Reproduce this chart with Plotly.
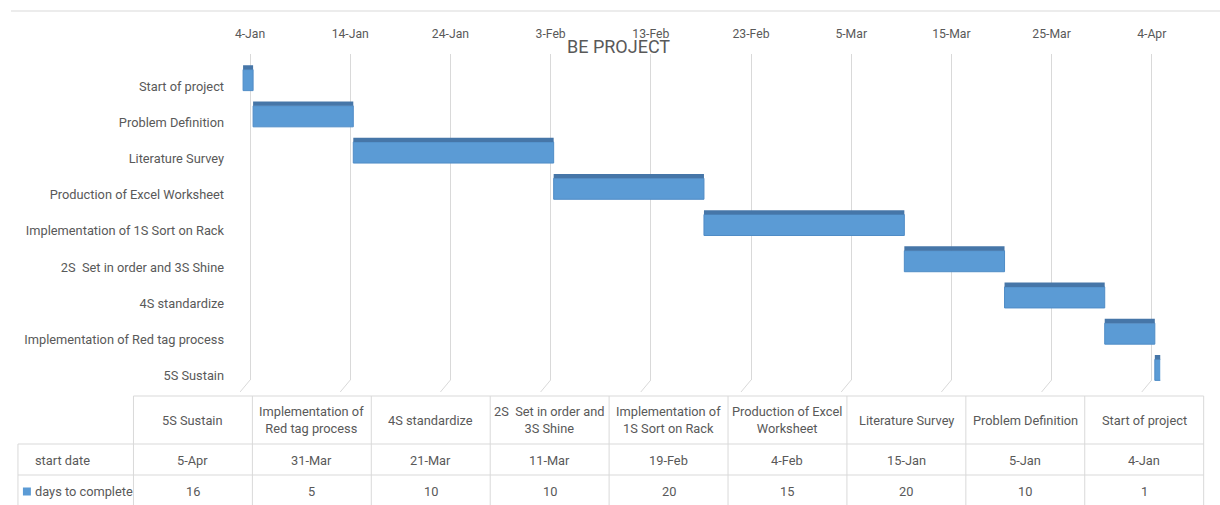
import plotly.graph_objects as go
import pandas as pd

# ---- data (table order, as in the Excel source) ----
tasks = ["5S Sustain", "Implementation of Red tag process", "4S standardize",
         "2S  Set in order and 3S Shine", "Implementation of 1S Sort on Rack",
         "Production of Excel Worksheet", "Literature Survey", "Problem Definition",
         "Start of project"]
header_labels = ["5S Sustain", "Implementation of<br>Red tag process", "4S standardize",
                 "2S  Set in order and<br>3S Shine", "Implementation of<br>1S Sort on Rack",
                 "Production of Excel<br>Worksheet", "Literature Survey", "Problem Definition",
                 "Start of project"]
start_dates = ["2019-04-05", "2019-03-31", "2019-03-21", "2019-03-11", "2019-02-19",
               "2019-02-04", "2019-01-15", "2019-01-05", "2019-01-04"]
days_to_complete = [16, 5, 10, 10, 20, 15, 20, 10, 1]
row_labels = ["start date", "days to complete"]
title_text = "BE PROJECT"

# ---- styling ----
W, H = 1220, 505
FONT = "Roboto, Liberation Sans, sans-serif"
TXT = "#595959"
GRID = "#d9d9d9"
BAR = "#5B9BD5"
BAR_TOP = "#4676a8"
FS = 12.8

def px(x):
    return x / W

def py(y):
    return 1 - y / H

DAY_MS = 86400000
dur_ms = [d * DAY_MS for d in days_to_complete]
start_fmt = [pd.Timestamp(s).strftime("%-d-%b") for s in start_dates]

X_RANGE = ["2019-01-03", "2019-04-05 13:00"]
# back wall (gridlines, ticks) and front face (bars) of the 3-D Excel chart
back_l, back_r, back_t, back_b = 236, 1167, 54, 380
DX, DY = -7, 8
front_l, front_r, front_t, front_b = back_l + DX, back_r + DX, back_t + DY, back_b + DY

fig = go.Figure()
fig.add_trace(go.Bar(y=tasks, x=dur_ms, base=start_dates, orientation="h",
                     width=0.58, offset=-0.29, xaxis="x2", yaxis="y2",
                     marker=dict(color=BAR, line=dict(color="#4f8cc6", width=1)),
                     hoverinfo="skip", showlegend=False))
fig.add_trace(go.Bar(y=tasks, x=dur_ms, base=start_dates, orientation="h",
                     width=0.12, offset=0.29, xaxis="x2", yaxis="y2",
                     marker=dict(color=BAR_TOP, line=dict(width=0)),
                     hoverinfo="skip", showlegend=False))

fig.update_layout(
    width=W, height=H, autosize=False,
    margin=dict(l=0, r=0, t=0, b=0),
    paper_bgcolor="white", plot_bgcolor="rgba(0,0,0,0)",
    barmode="overlay",
    font=dict(family=FONT, color=TXT, size=FS),
    xaxis=dict(type="date", side="top", domain=[px(back_l), px(back_r)], anchor="y",
               range=X_RANGE, tick0="2019-01-04", dtick=10 * DAY_MS, tickformat="%-d-%b",
               showgrid=True, gridcolor=GRID, gridwidth=1, showline=False, zeroline=False,
               ticks="", tickfont=dict(size=12.2, color=TXT), ticklabelstandoff=13),
    yaxis=dict(domain=[py(back_b), py(back_t)], anchor="x", range=[-0.5, len(tasks) - 0.5],
               visible=False),
    xaxis2=dict(type="date", domain=[px(front_l), px(front_r)], anchor="y2",
                range=X_RANGE, visible=False),
    yaxis2=dict(domain=[py(front_b), py(front_t)], anchor="x2", range=[-0.5, len(tasks) - 0.5],
                showgrid=False, showline=False, zeroline=False, ticks="",
                tickfont=dict(size=FS, color=TXT), ticklabelstandoff=8, ticklabelshift=6),
)

shapes = []
annotations = []
# chart border top line
shapes.append(dict(type="line", xref="paper", yref="paper", x0=px(6), x1=px(1220), y0=py(11), y1=py(11),
                   line=dict(color=GRID, width=1)))
# 3D floor slants under each gridline
tick_dates = pd.date_range("2019-01-04", "2019-04-04", freq="10D")
for t in tick_dates:
    shapes.append(dict(type="line", xref="x", yref="paper", x0=t, y0=py(back_b),
                       x1=t - pd.Timedelta(days=1), y1=py(392), line=dict(color=GRID, width=1)))

# data table
col_edges = [129 + i * 119.4 for i in range(len(tasks) + 1)]
t_top, t_hdr, t_r1, t_r2 = 396, 444, 475, 512
lc = dict(color=GRID, width=1)
shapes.append(dict(type="line", xref="paper", yref="paper", x0=px(col_edges[0]), x1=px(col_edges[-1]),
                   y0=py(t_top), y1=py(t_top), line=lc))
for yy in (t_hdr, t_r1):
    shapes.append(dict(type="line", xref="paper", yref="paper", x0=px(13), x1=px(col_edges[-1]),
                       y0=py(yy), y1=py(yy), line=lc))
shapes.append(dict(type="line", xref="paper", yref="paper", x0=px(13), x1=px(13),
                   y0=py(t_hdr), y1=py(t_r2), line=lc))
for xe in col_edges:
    shapes.append(dict(type="line", xref="paper", yref="paper", x0=px(xe), x1=px(xe),
                       y0=py(t_top), y1=py(t_r2), line=lc))

row_y = [(t_top + t_hdr) / 2, (t_hdr + t_r1) / 2 + 1, (t_r1 + 508) / 2]
for i in range(len(tasks)):
    cx = px((col_edges[i] + col_edges[i + 1]) / 2)
    for txt, ry in ((header_labels[i], row_y[0]), (start_fmt[i], row_y[1]),
                    (str(days_to_complete[i]), row_y[2])):
        annotations.append(dict(x=cx, y=py(ry), xref="paper", yref="paper",
                                text=txt, showarrow=False, xanchor="center", yanchor="middle",
                                font=dict(size=FS, color=TXT)))

annotations.append(dict(x=px(28), y=py(row_y[1]), xref="paper", yref="paper",
                        text=row_labels[0], showarrow=False, xanchor="left", yanchor="middle",
                        font=dict(size=FS, color=TXT)))
annotations.append(dict(x=px(28), y=py(row_y[2]), xref="paper", yref="paper",
                        text=row_labels[1], showarrow=False, xanchor="left", yanchor="middle",
                        font=dict(size=FS, color=TXT)))
# legend key square
shapes.append(dict(type="rect", xref="paper", yref="paper", x0=px(18), x1=px(26),
                   y0=py(row_y[2] + 4), y1=py(row_y[2] - 4), fillcolor=BAR, line=dict(width=0)))

# title
annotations.append(dict(x=px(616), y=py(47), xref="paper", yref="paper", text=title_text,
                        showarrow=False, xanchor="center", yanchor="middle",
                        font=dict(size=18, color=TXT)))

fig.update_layout(shapes=shapes, annotations=annotations)
fig.write_html("out.html", config=dict(displayModeBar=False),
               post_script="document.body.style.margin='0px';document.body.style.overflow='hidden';")
